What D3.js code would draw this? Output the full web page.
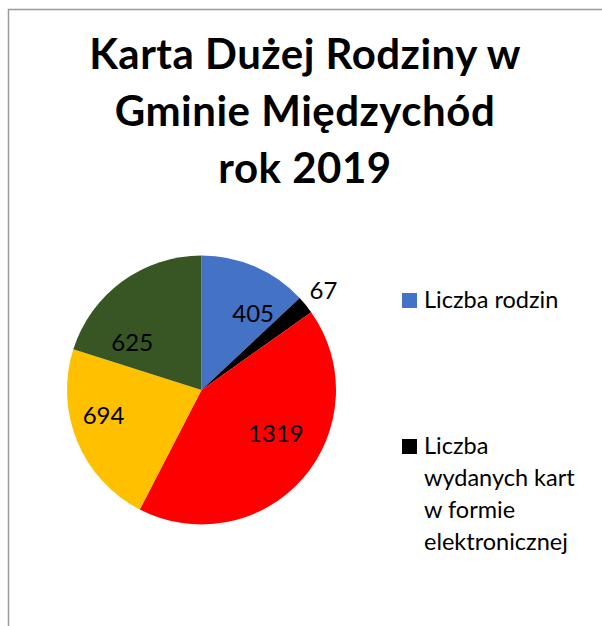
<!DOCTYPE html>
<html>
<head>
<meta charset="utf-8">
<script src="https://cdn.jsdelivr.net/npm/d3@7"></script>
<style>
  html, body { margin: 0; padding: 0; background: #fff; }
  text { font-family: Lato, "Open Sans", sans-serif; }
</style>
</head>
<body>
<div id="chart"></div>
<script>
// data
const titleLines = ["Karta Dużej Rodziny w", "Gminie Międzychód", "rok 2019"];
const values = [405, 67, 1319, 694, 625];
const colors = ["#4472C4", "#000000", "#FF0000", "#FFC000", "#375623"];
// only these two legend entries are visible, the rest is cut off
const legendLabels = [
  ["Liczba rodzin"],
  ["Liczba", "wydanych kart", "w formie", "elektronicznej"]
];

// label placement (Excel best fit), outside for small slice
const labelOutside = [false, true, false, false, false];
const labelNudge = [[15, 8], [0, 0], [5, -17], [-13, -10], [-15, 27]];

const W = 602, H = 626;
const cx = 201.5, cy = 390, R = 134.5;

const svg = d3.select("#chart")
  .append("svg")
    .attr("width", W)
    .attr("height", H);

// chart frame (cut at right/bottom)
svg.append("rect")
  .attr("x", 8.5)
  .attr("y", 9.5)
  .attr("width", 800)
  .attr("height", 800)
  .attr("fill", "#fff")
  .attr("stroke", "#9a9a9a")
  .attr("stroke-width", 1.5);

// Title
svg.append("g")
  .selectAll("text")
  .data(titleLines)
  .join("text")
    .attr("x", 305)
    .attr("y", (d, i) => 69 + i * 57)
    .attr("text-anchor", "middle")
    .style("font-size", "42px")
    .style("font-weight", "bold")
    .style("letter-spacing", "0.5px")
    .attr("fill", "#000")
    .text(d => d);

// Pie
const pie = d3.pie().sort(null).value(d => d);
const arcs = pie(values);
const arc = d3.arc().innerRadius(0).outerRadius(R);
const labelArc = d3.arc().innerRadius(92).outerRadius(92);
const outArc = d3.arc().innerRadius(R + 23).outerRadius(R + 23);

const g = svg.append("g")
  .attr("transform", `translate(${cx},${cy})`);

g.selectAll("path")
  .data(arcs)
  .join("path")
    .attr("d", arc)
    .attr("fill", (d, i) => colors[i]);

g.selectAll("text")
  .data(arcs)
  .join("text")
    .attr("transform", (d, i) => {
      const c = labelOutside[i] ? outArc.centroid(d) : labelArc.centroid(d);
      return `translate(${c[0] + labelNudge[i][0]},${c[1] + labelNudge[i][1]})`;
    })
    .attr("text-anchor", "middle")
    .attr("dy", "0.36em")
    .style("font-size", "24px")
    .attr("fill", "#000")
    .text(d => d.data);

// Legend
const legendY = [293, 439];
const legend = svg.append("g");
const item = legend.selectAll("g")
  .data(legendLabels)
  .join("g")
    .attr("transform", (d, i) => `translate(402,${legendY[i]})`);

item.append("rect")
  .attr("width", 15)
  .attr("height", 15)
  .attr("fill", (d, i) => colors[i]);

item.selectAll("text")
  .data(d => d)
  .join("text")
    .attr("x", 22)
    .attr("y", (d, i) => 15 + i * 32)
    .style("font-size", "23.5px")
    .attr("fill", "#000")
    .text(d => d);
</script>
</body>
</html>
